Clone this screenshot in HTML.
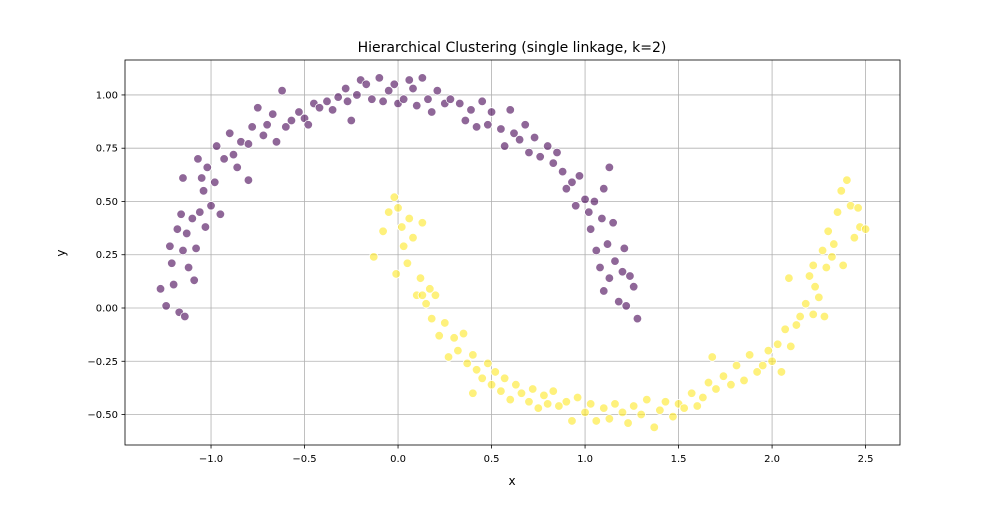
<!DOCTYPE html>
<html><head><meta charset="utf-8"><style>
body{margin:0;background:#fff;font-family:"Liberation Sans","DejaVu Sans",sans-serif;}
svg text{font-family:"DejaVu Sans","Liberation Sans",sans-serif;}
</style></head><body>
<svg id="chart" width="1000" height="500" viewBox="0 0 1000 500" xmlns="http://www.w3.org/2000/svg">
<rect width="1000" height="500" fill="#fff"/>
<text x="512" y="52" font-size="14" text-anchor="middle" fill="#000">Hierarchical Clustering (single linkage, k=2)</text>
<g id="grid"></g><g id="pts"></g><g id="axes"></g>
<text x="512" y="485" font-size="12" text-anchor="middle">x</text>
<text x="65" y="253" font-size="12" text-anchor="middle" transform="rotate(-90 65 253)">y</text>
</svg>
<script>
const xTicks=[-1.0,-0.5,0.0,0.5,1.0,1.5,2.0,2.5];
const yTicks=[-0.5,-0.25,0.0,0.25,0.5,0.75,1.0];
const xTickLabels=["−1.0","−0.5","0.0","0.5","1.0","1.5","2.0","2.5"];
const yTickLabels=["−0.50","−0.25","0.00","0.25","0.50","0.75","1.00"];
const cluster0X=[-1.27,-1.24,-1.22,-1.21,-1.2,-1.18,-1.17,-1.16,-1.15,-1.14,-1.13,-1.12,-1.1,-1.09,-1.08,-1.07,-1.06,-1.05,-1.04,-1.03,-1.02,-1.0,-0.98,-0.97,-0.95,-0.93,-0.9,-0.88,-0.86,-0.84,-0.8,-0.78,-0.75,-0.72,-0.7,-0.67,-0.65,-0.62,-0.6,-0.57,-0.53,-0.5,-0.48,-0.45,-0.42,-0.38,-0.35,-0.32,-0.28,-0.27,-0.25,-0.22,-0.2,-0.17,-0.14,-0.1,-0.08,-0.05,-0.02,0.0,0.03,0.06,0.08,0.1,0.13,0.16,0.18,0.21,0.25,0.28,0.33,0.36,0.39,0.42,0.45,0.48,0.5,0.55,0.57,0.6,0.62,0.65,0.68,0.7,0.73,0.76,0.8,0.83,0.85,0.88,0.9,0.93,0.95,0.97,1.0,1.02,1.03,1.05,1.06,1.08,1.09,1.1,1.12,1.13,1.15,1.16,1.18,1.2,1.21,1.22,1.24,1.26,1.28,1.13,1.1,-1.15,-0.8];
const cluster0Y=[0.09,0.01,0.29,0.21,0.11,0.37,-0.02,0.44,0.27,-0.04,0.35,0.19,0.42,0.13,0.28,0.70,0.45,0.61,0.55,0.38,0.66,0.48,0.59,0.76,0.44,0.70,0.82,0.72,0.66,0.78,0.77,0.85,0.94,0.81,0.86,0.91,0.78,1.02,0.85,0.88,0.92,0.89,0.86,0.96,0.94,0.97,0.93,0.99,1.03,0.97,0.88,1.00,1.07,1.05,0.98,1.08,0.97,1.02,1.05,0.96,0.98,1.07,1.03,0.95,1.08,0.98,0.92,1.02,0.96,0.98,0.96,0.88,0.93,0.85,0.97,0.86,0.92,0.84,0.76,0.93,0.82,0.79,0.86,0.73,0.80,0.71,0.76,0.68,0.73,0.64,0.56,0.59,0.48,0.62,0.51,0.45,0.37,0.50,0.27,0.19,0.42,0.08,0.30,0.14,0.40,0.22,0.03,0.17,0.28,0.01,0.15,0.10,-0.05,0.66,0.56,0.61,0.60];
const cluster1X=[-0.13,-0.08,-0.05,-0.02,0.0,0.02,-0.01,0.03,0.05,0.06,0.08,0.1,0.12,0.13,0.15,0.17,0.18,0.2,0.22,0.25,0.27,0.3,0.32,0.35,0.37,0.4,0.42,0.45,0.48,0.5,0.52,0.55,0.57,0.6,0.63,0.66,0.7,0.72,0.75,0.78,0.8,0.83,0.86,0.9,0.93,0.96,1.0,1.03,1.06,1.1,1.13,1.16,1.2,1.23,1.26,1.3,1.33,1.37,1.4,1.43,1.47,1.5,1.53,1.57,1.6,1.63,1.66,1.68,1.7,1.74,1.78,1.81,1.85,1.88,1.92,1.95,1.98,2.0,2.03,2.05,2.07,2.09,2.1,2.13,2.15,2.18,2.2,2.22,2.23,2.25,2.27,2.29,2.3,2.32,2.33,2.35,2.37,2.38,2.4,2.42,2.44,2.46,2.47,2.5,2.22,2.28,0.4,0.13];
const cluster1Y=[0.24,0.36,0.45,0.52,0.47,0.38,0.16,0.29,0.21,0.42,0.33,0.06,0.14,0.40,0.02,0.09,-0.05,0.06,-0.13,-0.07,-0.23,-0.14,-0.20,-0.12,-0.26,-0.22,-0.29,-0.33,-0.26,-0.36,-0.30,-0.39,-0.33,-0.43,-0.36,-0.40,-0.44,-0.38,-0.47,-0.41,-0.45,-0.39,-0.46,-0.44,-0.53,-0.42,-0.49,-0.45,-0.53,-0.47,-0.52,-0.45,-0.49,-0.54,-0.46,-0.50,-0.43,-0.56,-0.48,-0.44,-0.51,-0.45,-0.47,-0.40,-0.46,-0.42,-0.35,-0.23,-0.38,-0.32,-0.36,-0.27,-0.34,-0.22,-0.30,-0.27,-0.20,-0.25,-0.17,-0.30,-0.10,0.14,-0.18,-0.08,-0.04,0.02,0.15,-0.03,0.10,0.05,0.27,0.19,0.36,0.24,0.30,0.45,0.55,0.20,0.60,0.48,0.33,0.47,0.38,0.37,0.20,-0.04,-0.40,0.06];

const L=125,R=900,T=60,B=445;
const X0=-1.46,X1=2.684,Y0=-0.643,Y1=1.164;
const sx=v=>L+(v-X0)/(X1-X0)*(R-L);
const sy=v=>B-(v-Y0)/(Y1-Y0)*(B-T);
const NS="http://www.w3.org/2000/svg";
function mk(tag,attrs,parent){const e=document.createElementNS(NS,tag);for(const k in attrs)e.setAttribute(k,attrs[k]);parent.appendChild(e);return e;}
const grid=document.getElementById('grid'),axes=document.getElementById('axes'),pts=document.getElementById('pts');
xTicks.forEach((t,i)=>{const x=sx(t);
 const g=mk('line',{x1:x,x2:x,y1:T,y2:B,stroke:'#b0b0b0','stroke-width':0.8},grid);
 
 
 mk('line',{x1:x,x2:x,y1:B,y2:B+3.5,stroke:'#000','stroke-width':0.8},axes);
 const tx=mk('text',{x:x,y:B+17,'font-size':10,'text-anchor':'middle'},axes);tx.textContent=xTickLabels[i];
 
 });
yTicks.forEach((t,i)=>{const y=sy(t);
 const g=mk('line',{x1:L,x2:R,y1:y,y2:y,stroke:'#b0b0b0','stroke-width':0.8},grid);
 
 
 mk('line',{x1:L-3.5,x2:L,y1:y,y2:y,stroke:'#000','stroke-width':0.8},axes);
 const tx=mk('text',{x:L-7,y:y+3.5,'font-size':10,'text-anchor':'end'},axes);tx.textContent=yTickLabels[i];
 
 });
const fr=mk('rect',{x:L,y:T,width:R-L,height:B-T,fill:'none',stroke:'#000','stroke-width':0.8},axes);


function drawCluster(xs,ys,col,name){xs.forEach((v,i)=>{
 const c=mk('circle',{cx:sx(v),cy:sy(ys[i]),r:4.3,fill:col,'fill-opacity':0.6,stroke:'#fff','stroke-width':0.8},pts);
 
 });}
drawCluster(cluster0X,cluster0Y,'#440154','cluster-0-point');
drawCluster(cluster1X,cluster1Y,'#fde725','cluster-1-point');
</script>
</body></html>
